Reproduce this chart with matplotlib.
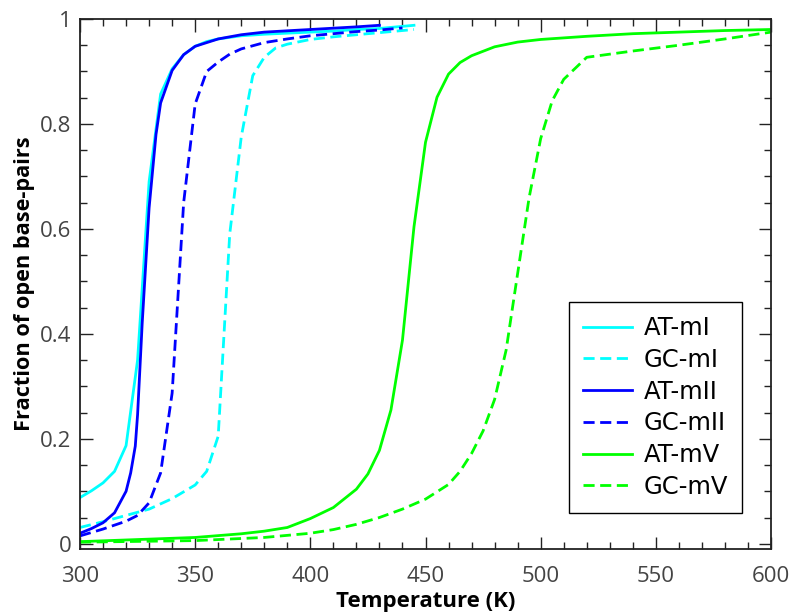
import matplotlib
matplotlib.use("Agg")
import matplotlib.pyplot as plt
from matplotlib.ticker import MultipleLocator

# Melting curves: fraction of open base-pairs vs temperature
T_at_m1 = [300, 305, 310, 315, 320, 325, 330, 335, 340, 345, 350, 355, 360, 370, 380,
           390, 400, 410, 420, 430, 440, 445]
f_at_m1 = [0.088, 0.101, 0.116, 0.138, 0.187, 0.350, 0.690, 0.857, 0.905, 0.932, 0.948,
           0.957, 0.962, 0.968, 0.971, 0.973, 0.975, 0.977, 0.980, 0.982, 0.986, 0.988]

T_gc_m1 = [300, 310, 320, 330, 340, 350, 355, 360, 365, 370, 375, 380, 385, 390, 400,
           410, 420, 430, 440, 445]
f_gc_m1 = [0.031, 0.042, 0.054, 0.066, 0.086, 0.112, 0.138, 0.205, 0.590, 0.775, 0.892,
           0.927, 0.945, 0.952, 0.961, 0.966, 0.970, 0.974, 0.978, 0.980]

T_at_m2 = [300, 305, 310, 315, 320, 322, 324, 325, 327, 330, 333, 335, 340, 345, 350,
           360, 370, 380, 400, 420, 430]
f_at_m2 = [0.020, 0.029, 0.040, 0.059, 0.100, 0.135, 0.186, 0.246, 0.420, 0.640, 0.780,
           0.840, 0.902, 0.932, 0.948, 0.962, 0.970, 0.975, 0.980, 0.985, 0.988]

T_gc_m2 = [300, 310, 320, 325, 330, 335, 340, 345, 350, 355, 360, 365, 370, 380, 390,
           400, 410, 420, 430, 440]
f_gc_m2 = [0.015, 0.028, 0.043, 0.054, 0.078, 0.135, 0.287, 0.650, 0.838, 0.900, 0.918,
           0.933, 0.943, 0.955, 0.962, 0.968, 0.972, 0.976, 0.979, 0.983]

T_at_m5 = [300, 350, 370, 380, 390, 400, 410, 420, 425, 430, 435, 440, 445, 450, 455,
           460, 465, 470, 480, 490, 500, 520, 540, 560, 580, 600]
f_at_m5 = [0.004, 0.012, 0.019, 0.024, 0.031, 0.048, 0.069, 0.104, 0.133, 0.178, 0.255,
           0.388, 0.604, 0.765, 0.851, 0.895, 0.917, 0.930, 0.947, 0.956, 0.961, 0.967,
           0.972, 0.975, 0.978, 0.980]

T_gc_m5 = [300, 350, 380, 400, 410, 420, 430, 440, 450, 460, 465, 470, 475, 480, 485,
           490, 495, 500, 505, 510, 520, 540, 560, 580, 600]
f_gc_m5 = [0.003, 0.006, 0.012, 0.020, 0.027, 0.037, 0.050, 0.066, 0.085, 0.113, 0.138,
           0.172, 0.215, 0.275, 0.369, 0.515, 0.660, 0.772, 0.844, 0.885, 0.927, 0.939,
           0.950, 0.962, 0.975]

series = [
    ("AT-mI", T_at_m1, f_at_m1, "#00ffff", "-"),
    ("GC-mI", T_gc_m1, f_gc_m1, "#00ffff", "--"),
    ("AT-mII", T_at_m2, f_at_m2, "#0000ff", "-"),
    ("GC-mII", T_gc_m2, f_gc_m2, "#0000ff", "--"),
    ("AT-mV", T_at_m5, f_at_m5, "#00ff00", "-"),
    ("GC-mV", T_gc_m5, f_gc_m5, "#00ff00", "--"),
]

fig = plt.figure(figsize=(7.9, 6.15), dpi=100)
ax = fig.add_axes([80 / 790, 1 - 549 / 615, 691 / 790, 530 / 615])

for name, T, f, color, ls in series:
    line, = ax.plot(T, f, color=color, linestyle=ls, linewidth=2, label=name)
    if ls == "--":
        line.set_dashes((4, 2))

ax.set_xlim(300, 600)
ax.set_ylim(-0.01, 1)
ax.xaxis.set_major_locator(MultipleLocator(50))
ax.xaxis.set_minor_locator(MultipleLocator(10))
ax.yaxis.set_minor_locator(MultipleLocator(0.05))
ax.set_yticks([0, 0.2, 0.4, 0.6, 0.8, 1])
ax.set_yticklabels(["0", "0.2", "0.4", "0.6", "0.8", "1"])

ax.tick_params(which="both", direction="in", top=True, right=True, width=1,
               colors="#222222", labelcolor="#444444", labelsize=16)
ax.tick_params(which="major", length=9)
ax.tick_params(which="minor", length=5)
ax.tick_params(axis="x", pad=12)
ax.tick_params(axis="y", pad=6)
for lab in ax.get_xticklabels() + ax.get_yticklabels():
    lab.set_family("Open Sans")

for sp in ax.spines.values():
    sp.set_linewidth(1.3)
    sp.set_color("#222222")

ax.set_xlabel("Temperature (K)", fontsize=16, fontweight="bold", family="Open Sans", labelpad=3)
ax.set_ylabel("Fraction of open base-pairs", fontsize=15.7, fontweight="bold",
              family="Open Sans", labelpad=4)

leg = ax.legend(loc="upper left", bbox_to_anchor=((569 - 80) / 691, 1 - (302 - 19) / 530),
                prop={"family": "DejaVu Sans", "size": 17.5}, fancybox=False, framealpha=1,
                edgecolor="black", handlelength=2.0, handletextpad=0.5, borderpad=0.58,
                labelspacing=0.32, borderaxespad=0)
leg.get_frame().set_linewidth(1)

fig.savefig("out.png", dpi=100)
